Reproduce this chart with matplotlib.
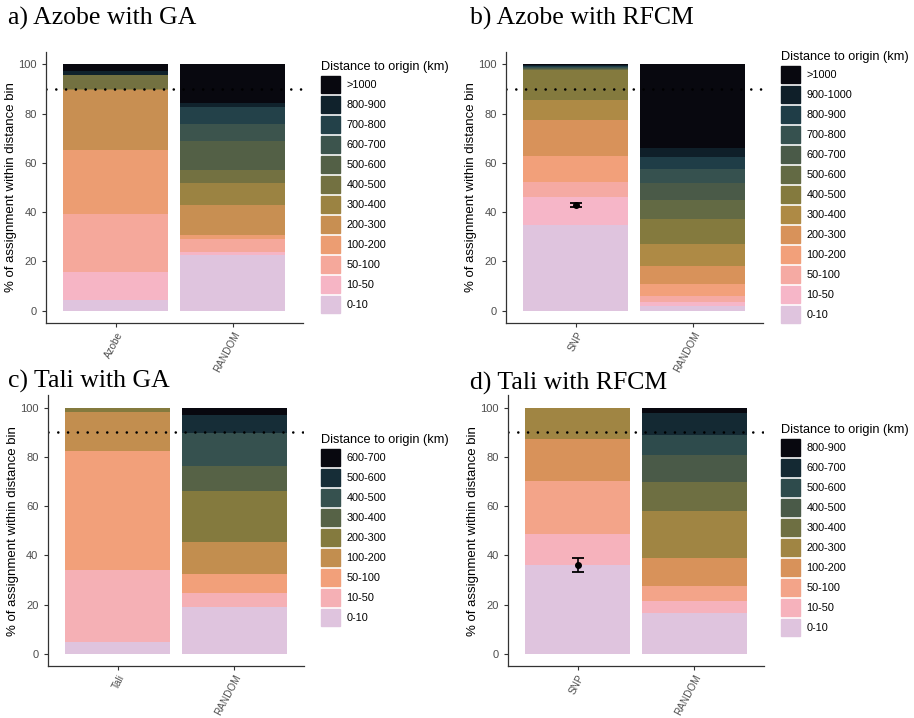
import numpy as np
import matplotlib
matplotlib.use('Agg')
import matplotlib.pyplot as plt
from matplotlib.colors import LinearSegmentedColormap
from matplotlib.patches import Patch

plt.rcParams['font.family'] = ['Liberation Sans', 'DejaVu Sans']

# distance bins per panel (bottom -> top of the stack)
bins_a = ['0-10', '10-50', '50-100', '100-200', '200-300', '300-400', '400-500',
          '500-600', '600-700', '700-800', '800-900', '>1000']
bins_b = ['0-10', '10-50', '50-100', '100-200', '200-300', '300-400', '400-500',
          '500-600', '600-700', '700-800', '800-900', '900-1000', '>1000']
bins_c = ['0-10', '10-50', '50-100', '100-200', '200-300', '300-400', '400-500',
          '500-600', '600-700']
bins_d = ['0-10', '10-50', '50-100', '100-200', '200-300', '300-400', '400-500',
          '500-600', '600-700', '800-900']

# % of assignments in each bin
azobe_ga = [4.5, 11.1, 23.6, 26.0, 24.4, 0.5, 5.7, 0, 0, 0, 1.6, 2.6]
random_a = [22.6, 1.1, 5.4, 1.6, 12.2, 8.8, 5.4, 11.8, 6.7, 7.2, 1.6, 15.6]
azobe_snp = [34.8, 11.5, 5.8, 10.7, 14.6, 8.1, 12.1, 0.6, 0.5, 0.4, 0.4, 0.3, 0.2]
random_b = [1.9, 1.8, 2.3, 4.8, 7.3, 9.1, 10.0, 7.7, 7.1, 5.4, 5.1, 3.4, 34.1]
tali_ga = [4.7, 29.4, 48.4, 15.9, 1.6, 0, 0, 0, 0]
random_c = [18.9, 5.9, 7.5, 13.2, 20.7, 10.1, 13.5, 7.2, 3.0]
tali_snp = [36.1, 12.6, 21.7, 16.9, 12.7, 0, 0, 0, 0, 0]
random_d = [16.5, 5.0, 6.1, 11.5, 19.1, 11.5, 11.1, 8.1, 8.8, 2.3]

# mean self-assignment with error (RFCM panels)
err_b = (42.9, 0.9)
err_d = (36.1, 2.85)

anchor_colors = ['#dfc4de', '#f6b6c8', '#f5aaa2', '#f2a07a', '#d8925a', '#ad8a45',
                 '#857a3e', '#636a44', '#4a5a48', '#37524f', '#1f3e48', '#0f1f29',
                 '#08080f']
cmap = LinearSegmentedColormap.from_list('dist', anchor_colors)

W, H = 914, 718
fig = plt.figure(figsize=(W / 100, H / 100), dpi=100)


def px_axes(left, right, top, bottom):
    return fig.add_axes([left / W, 1 - bottom / H, (right - left) / W, (bottom - top) / H])


def panel(ax, names, series, bins, title, title_xy, leg_xy, err=None):
    colors = cmap(np.linspace(0, 1, len(bins)))
    x = np.arange(1, len(names) + 1)
    vals = np.array(series)
    bottom = np.zeros(len(names))
    for i in range(len(bins)):
        ax.bar(x, vals[:, i], bottom=bottom, width=0.9, color=colors[i],
               edgecolor='none')
        bottom += vals[:, i]
    ax.axhline(90, color='black', lw=1.9, linestyle=(0, (0.01, 3.7)),
               dash_capstyle='round')
    if err is not None:
        ax.errorbar([1], [err[0]], yerr=[err[1]], fmt='o', color='black', ms=4,
                    capsize=4.5, elinewidth=1.2, capthick=1.3)
    ax.set_xlim(0.4, len(names) + 0.6)
    ax.set_ylim(-5, 105)
    ax.set_yticks([0, 20, 40, 60, 80, 100])
    ax.set_xticks(x)
    ax.set_xticklabels(names, rotation=62, ha='right', rotation_mode='anchor')
    ax.tick_params(colors='#333333', labelcolor='#4d4d4d', labelsize=8, length=3)
    ax.tick_params(axis='x', labelsize=7.2, pad=2)
    for s in ['top', 'right']:
        ax.spines[s].set_visible(False)
    for s in ['left', 'bottom']:
        ax.spines[s].set_color('#333333')
        ax.spines[s].set_linewidth(0.9)
    ax.set_ylabel('% of assignment within distance bin', fontsize=9.5, labelpad=1)
    fig.text(title_xy[0] / W, 1 - title_xy[1] / H, title, fontsize=18.5,
             family='Liberation Serif', va='center', ha='left')
    handles = [Patch(color=colors[i], label=bins[i]) for i in range(len(bins))][::-1]
    fig.legend(handles=handles, title='Distance to origin (km)', loc='upper left',
               bbox_to_anchor=(leg_xy[0] / W, 1 - leg_xy[1] / H), frameon=False,
               fontsize=7.8, title_fontsize=9.2, handleheight=2.0, handlelength=1.75,
               labelspacing=0.3, handletextpad=0.6, borderpad=0, borderaxespad=0,
               alignment='left')


ax_a = px_axes(46, 302.5, 52, 323)
panel(ax_a, ['Azobe', 'RANDOM'], [azobe_ga, random_a], bins_a,
      'a) Azobe with GA', (8, 18), (321, 61))

ax_b = px_axes(506, 762.5, 52, 323)
panel(ax_b, ['SNP', 'RANDOM'], [azobe_snp, random_b], bins_b,
      'b) Azobe with RFCM', (470, 18), (781, 51), err=err_b)

ax_c = px_axes(47.5, 304.2, 395.4, 666.3)
panel(ax_c, ['Tali', 'RANDOM'], [tali_ga, random_c], bins_c,
      'c) Tali with GA', (8, 381), (321, 434))

ax_d = px_axes(507.7, 764.2, 395.4, 666.3)
panel(ax_d, ['SNP', 'RANDOM'], [tali_snp, random_d], bins_d,
      'd) Tali with RFCM', (470, 383), (781, 424), err=err_d)

fig.savefig('out.png', dpi=100)
